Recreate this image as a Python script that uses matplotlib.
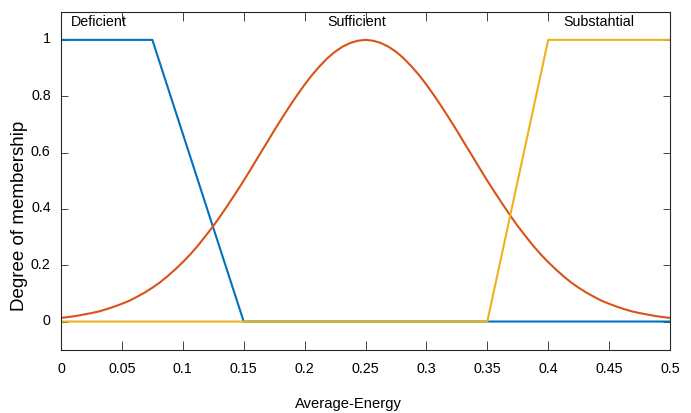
import matplotlib
matplotlib.use("Agg")
import matplotlib.pyplot as plt
from matplotlib import font_manager
from matplotlib.transforms import ScaledTranslation

# ---- data ----
x_deficient = [0.0, 0.075, 0.15, 0.5]
y_deficient = [1.0, 1.0, 0.0, 0.0]

x_sufficient = [0.0, 0.00625, 0.0125, 0.01875, 0.025, 0.03125, 0.0375, 0.04375,
                0.05, 0.05625, 0.0625, 0.06875, 0.075, 0.08125, 0.0875, 0.09375,
                0.1, 0.10625, 0.1125, 0.11875, 0.125, 0.13125, 0.1375, 0.14375,
                0.15, 0.15625, 0.1625, 0.16875, 0.175, 0.18125, 0.1875, 0.19375,
                0.2, 0.20625, 0.2125, 0.21875, 0.225, 0.23125, 0.2375, 0.24375,
                0.25, 0.25625, 0.2625, 0.26875, 0.275, 0.28125, 0.2875, 0.29375,
                0.3, 0.30625, 0.3125, 0.31875, 0.325, 0.33125, 0.3375, 0.34375,
                0.35, 0.35625, 0.3625, 0.36875, 0.375, 0.38125, 0.3875, 0.39375,
                0.4, 0.40625, 0.4125, 0.41875, 0.425, 0.43125, 0.4375, 0.44375,
                0.45, 0.45625, 0.4625, 0.46875, 0.475, 0.48125, 0.4875, 0.49375, 0.5]
y_sufficient = [0.013, 0.016, 0.020, 0.025, 0.030, 0.036, 0.044, 0.053,
                0.063, 0.074, 0.088, 0.103, 0.120, 0.139, 0.161, 0.185,
                0.211, 0.239, 0.270, 0.304, 0.339, 0.377, 0.417, 0.458,
                0.500, 0.544, 0.589, 0.633, 0.678, 0.721, 0.763, 0.803,
                0.841, 0.876, 0.907, 0.935, 0.958, 0.976, 0.989, 0.997,
                1.000, 0.997, 0.989, 0.976, 0.958, 0.935, 0.907, 0.876,
                0.841, 0.803, 0.763, 0.721, 0.678, 0.633, 0.589, 0.544,
                0.500, 0.458, 0.417, 0.377, 0.339, 0.304, 0.270, 0.239,
                0.211, 0.185, 0.161, 0.139, 0.120, 0.103, 0.088, 0.074,
                0.063, 0.053, 0.044, 0.036, 0.030, 0.025, 0.020, 0.016, 0.013]

x_substantial = [0.0, 0.35, 0.4, 0.5]
y_substantial = [0.0, 0.0, 1.0, 1.0]

mf_names = ["Deficient", "Sufficient", "Substantial"]
mf_label_x = [0.031, 0.2425, 0.4415]

x_ticks = [0, 0.05, 0.1, 0.15, 0.2, 0.25, 0.3, 0.35, 0.4, 0.45, 0.5]
x_tick_labels = ["0", "0.05", "0.1", "0.15", "0.2", "0.25", "0.3", "0.35", "0.4", "0.45", "0.5"]
y_ticks = [0, 0.2, 0.4, 0.6, 0.8, 1]
y_tick_labels = ["0", "0.2", "0.4", "0.6", "0.8", "1"]

x_label = "Average-Energy"
y_label = "Degree of membership"

# ---- fonts ----
available = {f.name for f in font_manager.fontManager.ttflist}
narrow = "Liberation Sans Narrow" if "Liberation Sans Narrow" in available else "Liberation Sans"
regular = "Liberation Sans" if "Liberation Sans" in available else "DejaVu Sans"
small = 11 if narrow == "Liberation Sans Narrow" else 10.3

colors = ["#0072BD", "#D95319", "#EDB120"]
axis_color = "#262626"

fig = plt.figure(figsize=(6.91, 4.14), dpi=100)
ax = fig.add_axes([61 / 691, 1 - 350.7 / 414, (670 - 61) / 691, (350.7 - 12.7) / 414])

ax.plot(x_deficient, y_deficient, color=colors[0], lw=1.5)
ax.plot(x_sufficient, y_sufficient, color=colors[1], lw=1.5)
ax.plot(x_substantial, y_substantial, color=colors[2], lw=1.5)

ax.set_xlim(0, 0.5)
ax.set_ylim(-0.1, 1.1)

ax.set_xticks(x_ticks)
ax.set_xticklabels(x_tick_labels, fontfamily=narrow, fontsize=small, color="black")
ax.set_yticks(y_ticks)
ax.set_yticklabels(y_tick_labels, fontfamily=narrow, fontsize=small, color="black")

ax.tick_params(axis="x", direction="in", length=6.5, width=0.6, color=axis_color,
               top=True, bottom=True, pad=8)
ax.tick_params(axis="y", direction="in", length=4.7, width=0.6, color=axis_color,
               left=True, right=True, pad=7.4)
for sp in ax.spines.values():
    sp.set_color(axis_color)
    sp.set_linewidth(0.8)

shift_up = ScaledTranslation(0, 3 / 100, fig.dpi_scale_trans)
for lab in ax.get_yticklabels():
    lab.set_transform(lab.get_transform() + shift_up)

for name, lx in zip(mf_names, mf_label_x):
    ax.text(lx, 1.066, name, ha="center", va="center", fontfamily=narrow, fontsize=small,
            color="black")

fig.text(348 / 691, 1 - 404 / 414, x_label, ha="center", va="center",
         fontfamily=narrow, fontsize=small + 0.3, color="black")
fig.text(20 / 691, 1 - 215.7 / 414, y_label, ha="center", va="center", rotation=90,
         fontfamily=regular, fontsize=13.5, color="black")

fig.savefig("out.png", dpi=100)
